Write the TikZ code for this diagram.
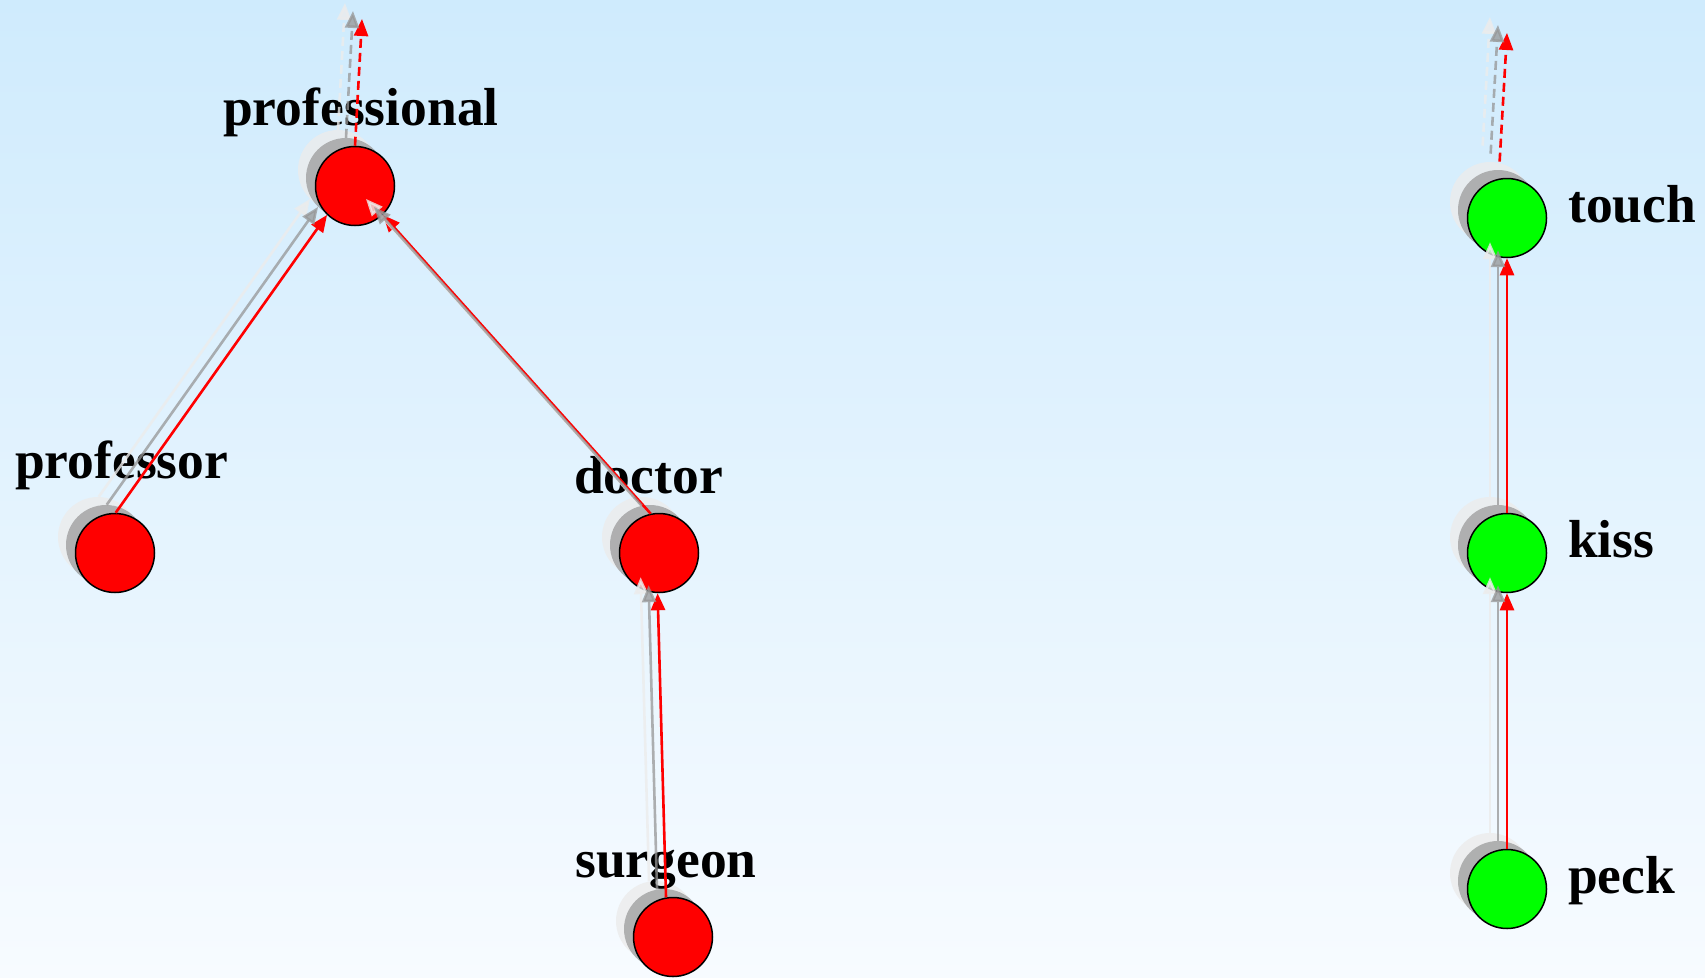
\documentclass[tikz,border=0pt]{standalone}
\usepackage{fontspec}
\setmainfont{Liberation Serif}
\usetikzlibrary{arrows.meta,positioning}

\definecolor{bgtop}{RGB}{207,235,253}
\definecolor{bgbot}{RGB}{247,251,255}
\definecolor{ghostdark}{RGB}{150,150,150}
\definecolor{ghostlight}{RGB}{236,236,236}

\begin{document}
\begin{tikzpicture}
[
  x=1pt, y=-1pt,
  vert/.style={circle, draw=black, line width=1.5pt, inner sep=0pt, minimum size=79pt},
  noun/.style={vert, fill=red},
  verb/.style={vert, fill=green},
  shadow/.style={circle, inner sep=0pt, minimum size=80pt},
  word/.style={font=\fontsize{53.5}{60}\selectfont\bfseries, anchor=base west, inner sep=0pt},
  isa/.style={-{Triangle[length=17pt,width=14pt]}, line width=2.6pt},
  isaup/.style={isa, dash pattern=on 9pt off 5pt}
]
 \fill[top color=bgtop, bottom color=bgbot] (0,0) rectangle (1705,977);
 \useasboundingbox (0,0) rectangle (1705,977);

 % trailing copies of the graph
 \foreach \g/\dx/\dy/\col/\op in {b/-17/-16/ghostlight/0.8, a/-9/-8/ghostdark/0.7}
 {
  \begin{scope}[shift={(\dx,\dy)}]
   \node[shadow, fill=\col, fill opacity=\op] (professional\g) at (355,186) {};
   \node[shadow, fill=\col, fill opacity=\op] (professor\g) at (115,553) {};
   \node[shadow, fill=\col, fill opacity=\op] (doctor\g) at (659,553) {};
   \node[shadow, fill=\col, fill opacity=\op] (surgeon\g) at (673,937) {};
   \node[shadow, fill=\col, fill opacity=\op] (touch\g) at (1507,218) {};
   \node[shadow, fill=\col, fill opacity=\op] (kiss\g) at (1507,553) {};
   \node[shadow, fill=\col, fill opacity=\op] (peck\g) at (1507,889) {};
   \coordinate (profup\g) at (362,19);
   \coordinate (touchup\g) at (1507,33);
  \end{scope}
 }

 \node[word] (professional-lbl) at (223,125) {professional};
 \node[word] (professor-lbl) at (15,478) {professor};
 \node[word] (doctor-lbl) at (574,493) {doctor};
 \node[word] (surgeon-lbl) at (575,877) {surgeon};
 \node[word] (touch-lbl) at (1568,222) {touch};
 \node[word] (kiss-lbl) at (1568,557) {kiss};
 \node[word] (peck-lbl) at (1568,893) {peck};

 \node[noun] (professional) at (355,186) {};
 \node[noun] (professor) at (115,553) {};
 \node[noun] (doctor) at (659,553) {};
 \node[noun] (surgeon) at (673,937) {};
 \node[verb] (touch) at (1507,218) {};
 \node[verb] (kiss) at (1507,553) {};
 \node[verb] (peck) at (1507,889) {};
 \coordinate (profup) at (362,19);
 \coordinate (touchup) at (1507,33);

 \draw[isa, red] (professor.89) -- (professional.226);
 \draw[isa, red] (doctor.102) -- (professional.314);
 \draw[isa, red] (surgeon.100) -- (doctor.268);
 \draw[isa, red] (kiss.90) -- (touch.270);
 \draw[isa, red] (peck.90) -- (kiss.270);
 \draw[isaup, red] (professional.north) -- (profup);
 \draw[isaup, red, shorten <=17pt] (touch.102) -- (touchup);

 \foreach \g/\col/\op in {b/ghostlight/0.8, a/ghostdark/0.75}
 {
  \begin{scope}[draw=\col, draw opacity=\op, fill opacity=\op]
   \draw[isa] (professor\g.89) -- (professional\g.226);
   \draw[isa] (doctor\g.102) -- (professional\g.314);
   \draw[isa] (surgeon\g.100) -- (doctor\g.268);
   \draw[isa] (kiss\g.90) -- (touch\g.270);
   \draw[isa] (peck\g.90) -- (kiss\g.270);
   \draw[isaup] (professional\g.north) -- (profup\g);
   \draw[isaup, shorten <=17pt] (touch\g.102) -- (touchup\g);
  \end{scope}
 }
\end{tikzpicture}
\end{document}
